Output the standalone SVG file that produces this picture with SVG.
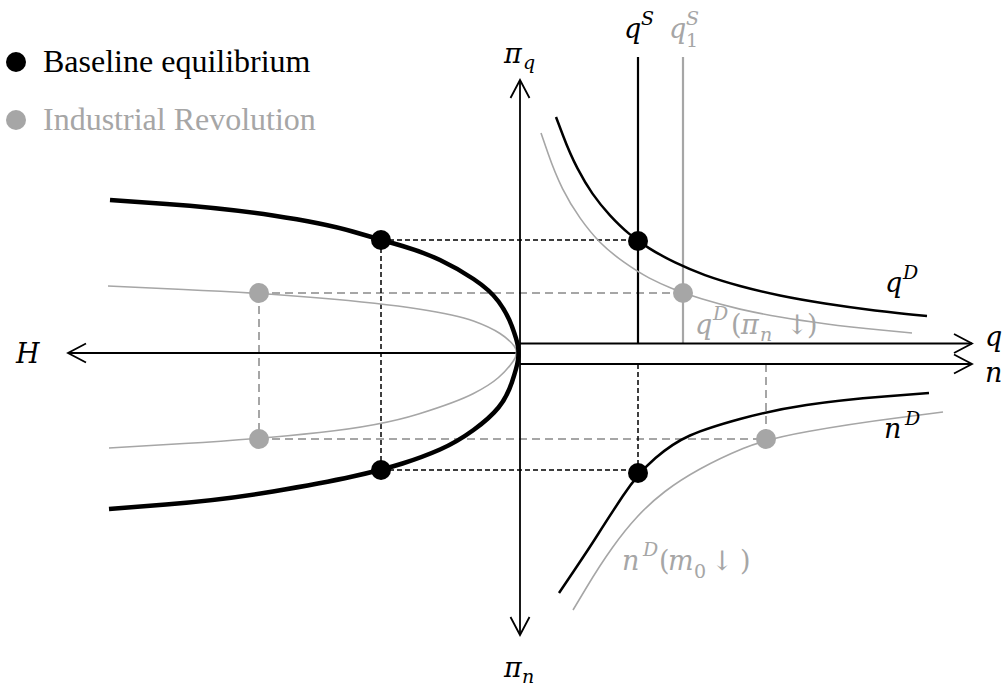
<svg xmlns="http://www.w3.org/2000/svg" width="1005" height="688" viewBox="0 0 1005 688">
<style>
.ax{stroke:#000;stroke-width:1.8;fill:none}
.thick{stroke:#000;stroke-width:4.5;fill:none;stroke-linecap:butt}
.blk{stroke:#000;stroke-width:2.5;fill:none}
.gry{stroke:#a6a6a6;stroke-width:1.6;fill:none}
.sup{stroke:#000;stroke-width:2.2;fill:none}
.supg{stroke:#a6a6a6;stroke-width:2.2;fill:none}
.bd{stroke:#000;stroke-width:1.5;stroke-dasharray:5 3;fill:none}
.gd{stroke:#a6a6a6;stroke-width:2;stroke-dasharray:8 5;fill:none}
.m{font-family:"DejaVu Serif",serif;font-style:italic;font-size:27px;fill:#000}
.g{fill:#a6a6a6}
.u{font-style:normal}
.s{font-size:19px}
.leg{font-family:"Liberation Serif","Times New Roman",serif;font-size:32px}
</style>
<defs>
<marker id="ar" viewBox="-20 -11 22 22" refX="0" refY="0" markerWidth="22" markerHeight="22" markerUnits="userSpaceOnUse" orient="auto-start-reverse">
<path d="M-18,-9.5 L0,0 L-18,9.5" fill="none" stroke="#000" stroke-width="1.8"/>
</marker>
</defs>
<rect width="1005" height="688" fill="#fff"/>

<g id="connectors">
<path class="gd" d="M259,293 H683 M259,293 V439 M259,439 H766 M766,364 V439"/>
<path class="bd" d="M381,240 H638 M381,240 V470 M381,470 H638 M638,364 V473"/>
<line class="sup" x1="638" y1="57" x2="638" y2="343.5"/>
<line class="supg" x1="683" y1="57" x2="683" y2="343.5"/>
<line class="ax" x1="520" y1="635" x2="520" y2="80" marker-end="url(#ar)" marker-start="url(#ar)"/>
<line class="ax" x1="520" y1="353" x2="68" y2="353" marker-end="url(#ar)"/>
<line class="ax" x1="520" y1="343.5" x2="972" y2="343.5" marker-end="url(#ar)"/>
<line class="ax" x1="520" y1="364" x2="972" y2="364" marker-end="url(#ar)"/>
<path class="gry" d="M108,286 L183.5,289.5 Q259,293 319.5,298 Q380,303 418.5,309 Q457,315 473.5,321 Q490,327 500,333.5 Q510,340 514.5,346.5 Q519,353 513,361.5 Q507,370 498.5,377.5 Q490,385 473.5,393.5 Q457,402 418.5,414 Q380,426 319.5,432.5 Q259,439 184,443.5 L109,448"/>
<path class="thick" d="M110,200 L166.5,204 Q223,208 273,215.5 Q323,223 352.5,231.5 Q382,240 402.5,246 Q423,252 440,260 Q457,268 473.5,279 Q490,290 498.5,301.5 Q507,313 512,326.5 Q517,340 518,346.5 Q519,353 518,360 Q517,367 512,382 Q507,397 498.5,407.5 Q490,418 473.5,430 Q457,442 440,449.5 Q423,457 402.5,463.5 Q382,470 352.5,476.5 Q323,483 273,491.5 Q223,500 166,504.5 L109,509"/>
<path class="gry" d="M541,133.1 L548,153.3 Q555,173.4 562.5,188.6 Q570,203.7 580,217.9 Q590,232.1 600,242.2 Q610,252.2 624,262.2 Q638,272.1 649,277.9 Q660,283.6 671.5,288.3 Q683,293 701.5,298.8 Q720,304.5 740,309.1 Q760,313.6 780,317 Q800,320.4 825,323.7 Q850,327 881,330 L912,333"/>
<path class="blk" d="M556,117 L563,135.5 Q570,154 577.5,168.4 Q585,182.8 592.5,193.6 Q600,204.4 610,215.3 Q620,226.1 629,233.6 Q638,241 649,248.1 Q660,255.1 675,262.4 Q690,269.6 705,275.1 Q720,280.5 740,286 Q760,291.4 780,295.5 Q800,299.6 825,303.5 Q850,307.4 875,310.4 Q900,313.3 913.5,314.7 L927,316"/>
<path class="gry" d="M573,610 L586.5,587.5 Q600,565 612.5,547.5 Q625,530 637.5,516.5 Q650,503 665,491.5 Q680,480 700,469 Q720,458 743,448.5 Q766,439 808,431.5 Q850,424 896.5,418 L943,412"/>
<path class="blk" d="M559,593 L574.5,570 Q590,547 598.5,533.5 Q607,520 622.5,496.5 Q638,473 655.5,458 Q673,443 690,435.5 Q707,428 740,419 Q773,410 806.5,405 Q840,400 884.5,396.5 L929,393"/>
</g>

<g id="node-b-left-top"><circle cx="381" cy="240" r="10" fill="#000"/></g>
<g id="node-b-q"><circle cx="638" cy="241" r="10" fill="#000"/></g>
<g id="node-b-left-bottom"><circle cx="381" cy="470" r="10" fill="#000"/></g>
<g id="node-b-n"><circle cx="638" cy="473" r="10" fill="#000"/></g>
<g id="node-g-left-top"><circle cx="259" cy="293" r="10" fill="#a6a6a6"/></g>
<g id="node-g-q"><circle cx="683" cy="293" r="10" fill="#a6a6a6"/></g>
<g id="node-g-left-bottom"><circle cx="259" cy="439" r="10" fill="#a6a6a6"/></g>
<g id="node-g-n"><circle cx="766" cy="439" r="10" fill="#a6a6a6"/></g>

<g id="legend-baseline"><circle cx="16" cy="62" r="10" fill="#000"/><text class="leg" x="43" y="72">Baseline equilibrium</text></g>
<g id="legend-ir"><circle cx="16" cy="120" r="10" fill="#a6a6a6"/><text class="leg" x="43" y="130" fill="#a6a6a6">Industrial Revolution</text></g>

<g id="labels">
<text class="m" x="504" y="63">π<tspan class="s" x="523" y="69">q</tspan></text>
<text class="m" x="504" y="677">π<tspan class="s" x="522" y="683">n</tspan></text>
<text class="m" x="16" y="363">H</text>
<text class="m" x="985" y="346">q</text>
<text class="m" x="985" y="382">n</text>
<text class="m" x="624" y="38">q<tspan class="s" x="641" y="25">S</tspan></text>
<text class="m g" x="669" y="38">q<tspan class="s" x="686" y="25">S</tspan><tspan class="s u" x="686" y="47">1</tspan></text>
<text class="m" x="885" y="292">q<tspan class="s" x="903" y="279">D</tspan></text>
<text class="m" x="884" y="438">n<tspan class="s" x="905" y="425">D</tspan></text>
<text class="m g" x="695" y="334">q<tspan class="s" x="713" y="320">D</tspan><tspan class="u" x="731" y="334">(</tspan><tspan x="741" y="334">π</tspan><tspan class="s" x="760" y="341">n</tspan><tspan class="u" x="786" y="334">↓</tspan><tspan class="u" x="807" y="334">)</tspan></text>
<text class="m g" x="622" y="570">n<tspan class="s" x="643" y="556">D</tspan><tspan class="u" x="659" y="570">(</tspan><tspan x="668" y="570">m</tspan><tspan class="s u" x="694" y="578">0</tspan><tspan class="u" x="711" y="570">↓</tspan><tspan class="u" x="740" y="570">)</tspan></text>
</g>
</svg>
